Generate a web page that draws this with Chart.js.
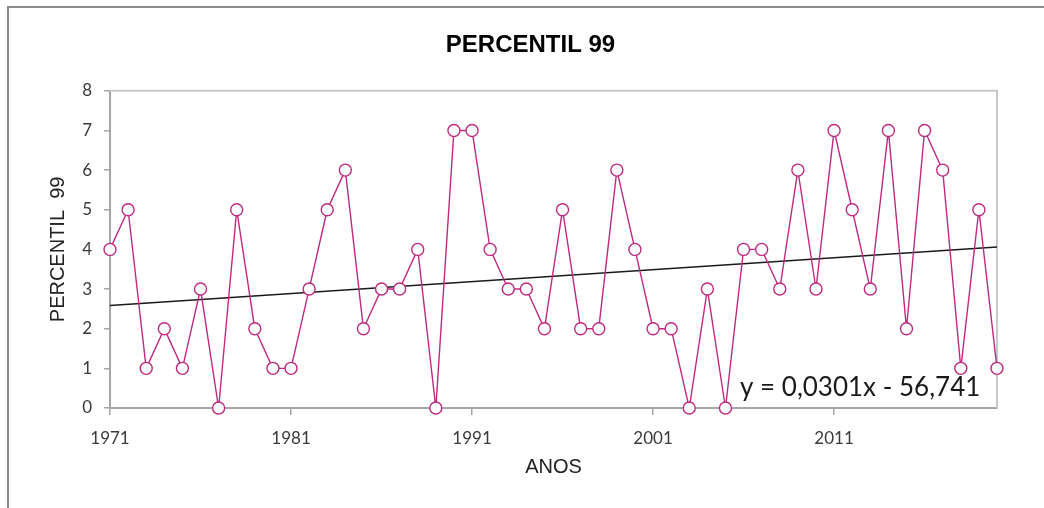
<!DOCTYPE html>
<html><head><meta charset="utf-8">
<script src="https://cdn.jsdelivr.net/npm/chart.js@4.4.1/dist/chart.umd.min.js"></script>
<style>html,body{margin:0;padding:0;background:#fff;}#wrap{width:1044px;height:508px;position:relative;}</style>
</head><body><div id="wrap"><canvas id="c" width="1044" height="508"></canvas></div>
<script>
const years = [1971,1972,1973,1974,1975,1976,1977,1978,1979,1980,1981,1982,1983,1984,1985,1986,1987,1988,1989,1990,1991,1992,1993,1994,1995,1996,1997,1998,1999,2000,2001,2002,2003,2004,2005,2006,2007,2008,2009,2010,2011,2012,2013,2014,2015,2016,2017,2018,2019,2020];
const percentil99 = [4,5,1,2,1,3,0,5,2,1,1,3,5,6,2,3,3,4,0,7,7,4,3,3,2,5,2,2,6,4,2,2,0,3,0,4,4,3,6,3,7,5,3,7,2,7,6,1,5,1];
const trendYears = [1971,2020];
const trendValues = [2.586,4.061];
const xTickLabels = [1971,1981,1991,2001,2011];
const equationText = 'y = 0,0301x - 56,741';

const magenta = '#bf2a7f';
const axisGray = '#a6a6a6';

const borders = {
  id:'borders',
  afterLayout(chart){
    if (chart.titleBlock) { chart.titleBlock.left += 18; }
  },
  beforeDraw(chart){
    const c = chart.ctx; c.save();
    c.strokeStyle = '#8c8c8c'; c.lineWidth = 2;
    c.beginPath(); c.moveTo(8,520); c.lineTo(8,7); c.lineTo(1050,7); c.stroke();
    c.restore();
  },
  beforeDatasetsDraw(chart){
    const a = chart.chartArea, c = chart.ctx; c.save();
    c.strokeStyle = '#c8c8c8'; c.lineWidth = 2;
    c.beginPath(); c.moveTo(a.left, a.top); c.lineTo(a.right, a.top); c.lineTo(a.right, a.bottom); c.stroke();
    c.restore();
  },
  afterDatasetsDraw(chart){
    const c = chart.ctx; c.save();
    c.fillStyle = '#1a1a1a'; c.font = '26px Lato, "Open Sans", sans-serif';
    c.textBaseline = 'alphabetic'; c.textAlign = 'left';
    c.fillText(equationText, 740, 396);
    c.restore();
  }
};

new Chart(document.getElementById('c'), {
  type:'line',
  data:{datasets:[
    {label:'PERCENTIL 99', data: years.map((y,i)=>({x:y,y:percentil99[i]})), borderColor:magenta, borderWidth:1.4,
     pointRadius:6, pointBackgroundColor:'#fff', pointBorderColor:magenta, pointBorderWidth:1.4, tension:0, order:1, clip:false},
    {label:'Tendência', data: trendYears.map((y,i)=>({x:y,y:trendValues[i]})), borderColor:'#1a1a1a', borderWidth:1.4,
     pointRadius:0, tension:0, order:2, clip:false}
  ]},
  plugins:[borders],
  options:{
    responsive:false, animation:false,
    layout:{padding:{left:46,right:47,top:0,bottom:29}},
    plugins:{
      legend:{display:false}, tooltip:{enabled:false},
      title:{display:true, text:'PERCENTIL 99', color:'#000',
        font:{family:'"Liberation Sans Narrow","Liberation Sans",Arial,sans-serif', size:24, weight:'bold'},
        padding:{top:31, bottom:31}}
    },
    scales:{
      x:{type:'linear', min:1971, max:2020,
        afterBuildTicks(s){ s.ticks = xTickLabels.map(v=>({value:v})); },
        afterFit(s){ s.height = 71; },
        border:{color:axisGray, width:2},
        grid:{drawOnChartArea:false, tickLength:7, color:axisGray, lineWidth:1.5},
        ticks:{color:'#3a3a3a', padding:13, maxRotation:0, font:{family:'Lato, sans-serif', size:17}, callback:v=>String(v)},
        title:{display:true, text:'ANOS', color:'#222', font:{family:'"Liberation Sans",Arial,sans-serif', size:20}, padding:{top:0,bottom:0}}
      },
      y:{min:0, max:8,
        afterFit(s){ s.width = 64; },
        border:{color:axisGray, width:2},
        grid:{drawOnChartArea:false, tickLength:6, color:axisGray, lineWidth:1.5},
        ticks:{stepSize:1, color:'#3a3a3a', padding:12, font:{family:'Lato, sans-serif', size:17}},
        title:{display:true, text:'PERCENTIL  99', color:'#222', font:{family:'"Liberation Sans",Arial,sans-serif', size:20}, padding:{top:0,bottom:0}}
      }
    }
  }
});
</script></body></html>
